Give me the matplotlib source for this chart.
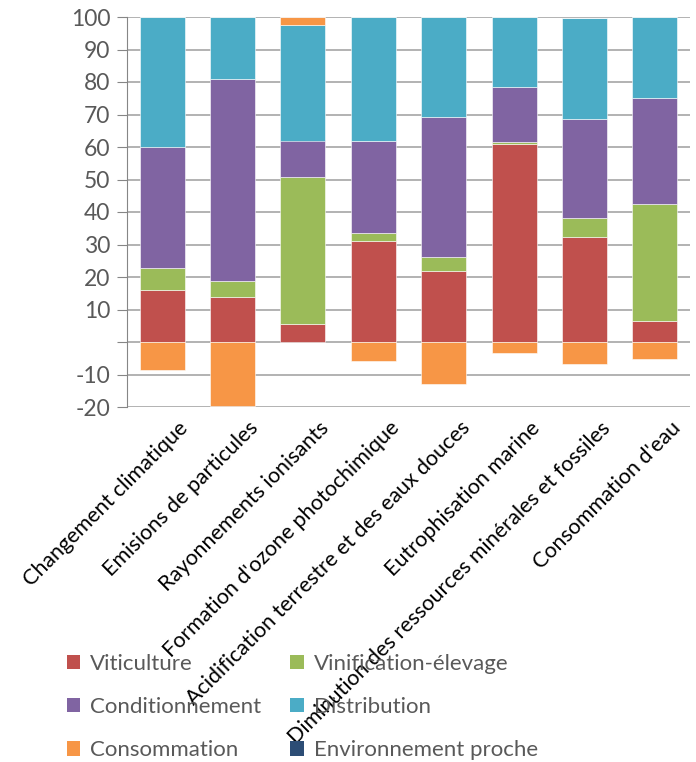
import matplotlib
matplotlib.use("Agg")
import matplotlib.pyplot as plt
from matplotlib.patches import Patch
from matplotlib.transforms import ScaledTranslation
import numpy as np

categories = [
    "Changement climatique",
    "Emisions de particules",
    "Rayonnements ionisants",
    "Formation d'ozone photochimique",
    "Acidification terrestre et des eaux douces",
    "Eutrophisation marine",
    "Diminution des ressources minérales et fossiles",
    "Consommation d'eau",
]

viticulture = [16.1, 13.9, 5.4, 31.2, 21.8, 60.9, 32.2, 6.4]
vinification = [6.6, 5.0, 45.4, 2.3, 4.5, 0.7, 5.9, 36.0]
conditionnement = [37.4, 62.0, 11.2, 28.2, 42.8, 16.8, 30.5, 32.6]
distribution = [39.9, 19.1, 35.5, 38.3, 30.9, 21.6, 31.0, 25.0]
consommation = [-8.5, -19.6, 2.5, -5.9, -12.8, -3.4, -6.7, -5.2]
environnement = [0, 0, 0, 0, 0, 0, 0, 0]

series = [
    ("Viticulture", viticulture, "#C0504D"),
    ("Vinification-élevage", vinification, "#9BBB59"),
    ("Conditionnement", conditionnement, "#8064A2"),
    ("Distribution", distribution, "#4BACC6"),
    ("Consommation", consommation, "#F79646"),
    ("Environnement proche", environnement, "#2C4D75"),
]

plt.rcParams["font.family"] = ["Lato", "DejaVu Sans"]

fig = plt.figure(figsize=(6.96, 7.62), dpi=100)
ax = fig.add_axes([127 / 696, 1 - 407 / 762, 563 / 696, 390 / 762])

x = np.arange(len(categories))
pos_bottom = np.zeros(len(categories))
neg_bottom = np.zeros(len(categories))
for name, vals, color in series:
    vals = np.array(vals, dtype=float)
    bottom = np.where(vals >= 0, pos_bottom, neg_bottom)
    ax.bar(x, vals, bottom=bottom, width=0.64, color=color,
           edgecolor="white", linewidth=0.4, zorder=3)
    pos_bottom += np.clip(vals, 0, None)
    neg_bottom += np.clip(vals, None, 0)

ax.set_xlim(-0.5, len(categories) - 0.5)
ax.set_ylim(-20, 100)
yt = np.arange(-20, 101, 10)
ax.set_yticks(yt)
ax.set_yticklabels(["" if v == 0 else str(v) for v in yt], fontsize=16.5, color="#595959")
ax.yaxis.grid(True, color="#A6A6A6", linewidth=1.2, zorder=0)
ax.tick_params(axis="y", length=7, color="#868686", pad=5)
ax.tick_params(axis="x", length=0, pad=2)

for s in ["top", "right", "bottom"]:
    ax.spines[s].set_visible(False)
ax.spines["left"].set_color("#868686")

ax.set_xticks(x)
ax.set_xticklabels(categories, rotation=45, ha="right", va="top",
                   rotation_mode="anchor", fontsize=15.5, color="black")
for lbl in ax.get_xticklabels():
    lbl.set_transform(lbl.get_transform() + ScaledTranslation(0.16, -0.08, fig.dpi_scale_trans))

handles = [Patch(facecolor=c, edgecolor="none") for _, _, c in series]
labels = [n for n, _, _ in series]
order = [0, 2, 4, 1, 3, 5]
fig.legend([handles[i] for i in order], [labels[i] for i in order],
           loc="lower left", bbox_to_anchor=(47 / 696, -0.024), ncol=2,
           frameon=False, fontsize=16, labelcolor="#595959",
           handlelength=0.6, handleheight=0.6, handletextpad=0.45,
           columnspacing=1.3, labelspacing=1.05)

fig.savefig("out.png", dpi=100)
